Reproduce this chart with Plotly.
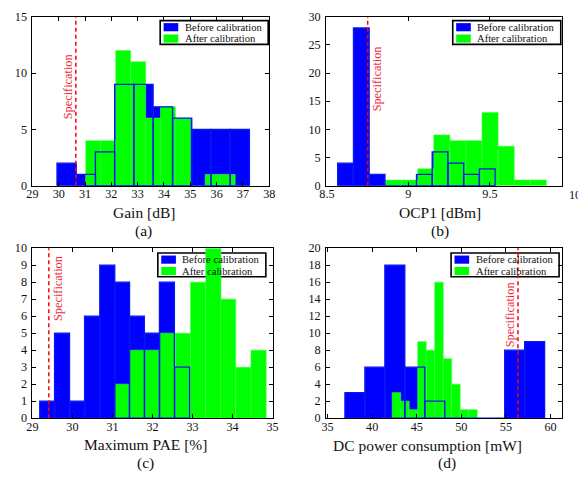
import plotly.graph_objects as go

W, H = 578, 487
FONT = "Liberation Serif"

# ---------------- data (bin centres, counts, bin widths) ----------------
gain_before_x = [30.30, 31.03, 31.76, 32.49, 33.22, 33.96, 34.69, 35.42, 36.15, 36.88]
gain_before_n = [2, 1, 3, 9, 9, 7, 6, 5, 5, 5]
gain_before_w = 0.732
gain_after_x = [31.31, 31.88, 32.45, 33.02, 33.58, 34.15, 34.72, 35.28, 35.85, 36.42]
gain_after_n = [4, 4, 12, 11, 6, 7, 6, 0, 1, 1]
gain_after_w = 0.567
gain_spec = 30.65

ocp_before_x = [8.614, 8.711, 8.808, 8.904, 9.001, 9.098, 9.194, 9.291, 9.387, 9.484]
ocp_before_n = [4, 28, 2, 0, 0, 2, 6, 4, 2, 3]
ocp_before_w = 0.0966
ocp_after_x = [8.909, 9.008, 9.107, 9.205, 9.304, 9.402, 9.501, 9.600, 9.698, 9.797]
ocp_after_n = [1, 1, 3, 9, 8, 8, 13, 7, 1, 1]
ocp_after_w = 0.0986
ocp_spec = 8.75

pae_before_x = [29.37, 29.74, 30.12, 30.49, 30.87, 31.24, 31.61, 31.99, 32.36, 32.74]
pae_before_n = [1, 5, 1, 6, 9, 8, 6, 5, 8, 3]
pae_before_w = 0.374
pae_after_x = [31.24, 31.62, 32.00, 32.38, 32.76, 33.14, 33.52, 33.89, 34.27, 34.65]
pae_after_n = [2, 4, 4, 5, 5, 8, 10, 7, 3, 4]
pae_after_w = 0.379
pae_spec = 29.41

dc_before_x = [38.06, 40.30, 42.54, 44.78, 47.02, 49.26, 51.50, 53.74, 55.98, 58.22]
dc_before_n = [3, 6, 18, 6, 2, 0, 0, 0, 8, 9]
dc_before_w = 2.24
dc_after_x = [42.72, 43.67, 44.62, 45.58, 46.53, 47.49, 48.44, 49.39, 50.35, 51.30]
dc_after_n = [3, 2, 1, 9, 8, 16, 7, 4, 1, 1]
dc_after_w = 0.954
dc_spec = 56.35

legend_labels = ["Before calibration", "After calibration"]

# ---------------- layout geometry (pixels) ----------------
panels = [
    dict(box=(26, 268.3, 10, 184), rng=[29, 38], ticks=list(range(29, 39)),
         yr=[0, 15], ydt=5, data=(gain_before_x, gain_before_n, gain_before_w,
                                  gain_after_x, gain_after_n, gain_after_w),
         spec=gain_spec, spec_txt=(62, 82), title="Gain [dB]", tpos=(140, 211.5),
         tag="(a)", tagpos=(140, 230.5), leg=(156.7, 14)),
    dict(box=(326.5, 567.7, 10, 184), rng=[8.4952, 9.942], ticks=[8.5, 9, 9.5],
         yr=[0, 30], ydt=5, data=(ocp_before_x, ocp_before_n, ocp_before_w,
                                  ocp_after_x, ocp_after_n, ocp_after_w),
         spec=ocp_spec, spec_txt=(378, 74), title="OCP1 [dBm]", tpos=(443, 211.5),
         tag="(b)", tagpos=(443, 230.5), leg=(456, 14)),
    dict(box=(26, 271.7, 248.3, 423.3), rng=[29, 35], ticks=list(range(29, 36)),
         yr=[0, 10], ydt=1, data=(pae_before_x, pae_before_n, pae_before_w,
                                  pae_after_x, pae_after_n, pae_after_w),
         spec=pae_spec, spec_txt=(51.5, 290), title="Maximum PAE [%]", tpos=(142, 450),
         tag="(c)", tagpos=(142, 470), leg=(154.3, 253.3)),
    dict(box=(326.5, 567.7, 248.3, 423.3), rng=[34.836, 61.28], ticks=[35, 40, 45, 50, 55, 60],
         yr=[0, 20], ydt=2, data=(dc_before_x, dc_before_n, dc_before_w,
                                  dc_after_x, dc_after_n, dc_after_w),
         spec=dc_spec, spec_txt=(514, 317), title="DC power consumption [mW]", tpos=(430, 451.5),
         tag="(d)", tagpos=(450, 470), leg=(454.3, 253.3)),
]

def fx(x):
    return x / W

def fy(y):
    return 1 - y / H

fig = go.Figure()
layout = dict(width=W, height=H, margin=dict(l=0, r=0, t=0, b=0),
              paper_bgcolor="white", plot_bgcolor="white", barmode="overlay",
              showlegend=False, font=dict(family=FONT, color="#111"))
shapes, annotations = [], []

BLUE, GREEN, EDGE = "#0000ff", "#00ff00", "#0818ee"

for i, p in enumerate(panels):
    k = "" if i == 0 else str(i + 1)
    xa, ya = "x" + k, "y" + k
    bx, bn, bw, ax_, an, aw = p["data"]
    fig.add_trace(go.Bar(x=bx, y=bn, width=bw, xaxis=xa, yaxis=ya,
                         marker=dict(color=BLUE, line=dict(width=0)), hoverinfo="skip"))
    fig.add_trace(go.Bar(x=ax_, y=an, width=aw, xaxis=xa, yaxis=ya,
                         marker=dict(color=GREEN, line=dict(width=0.6, color="#40ff40")),
                         hoverinfo="skip"))
    fig.add_trace(go.Bar(x=bx, y=bn, width=bw, xaxis=xa, yaxis=ya,
                         marker=dict(color="rgba(0,0,0,0)", line=dict(width=1.3, color=EDGE)),
                         hoverinfo="skip"))
    x0, x1, y0, y1 = p["box"]
    axcommon = dict(showline=True, linecolor="black", linewidth=1, mirror="allticks",
                    ticks="inside", ticklen=4, tickcolor="black", tickwidth=1,
                    showgrid=False, zeroline=False,
                    tickfont=dict(family=FONT, size=12.2, color="#111"))
    layout["xaxis" + k] = dict(domain=[fx(x0), fx(x1)], range=p["rng"], anchor=ya,
                               tickvals=p["ticks"], ticklabelstandoff=-3, **axcommon)
    layout["yaxis" + k] = dict(domain=[fy(y1), fy(y0)], range=p["yr"], anchor=xa,
                               dtick=p["ydt"], tick0=0, ticklabelstandoff=2, **axcommon)
    # specification line
    shapes.append(dict(type="line", xref=xa, yref="paper", x0=p["spec"], x1=p["spec"],
                       y0=fy(y1), y1=fy(y0), line=dict(color="#ff0000", width=1.5, dash="4px,3px"),
                       layer="above"))
    sx, sy = p["spec_txt"]
    annotations.append(dict(text="Specification", x=fx(sx), y=fy(sy), xref="paper", yref="paper",
                            showarrow=False, textangle=-90, xanchor="center", yanchor="middle",
                            font=dict(family=FONT, size=12.3, color="#f0283c")))
    # axis title + tag
    tx, ty = p["tpos"]
    annotations.append(dict(text=p["title"], x=fx(tx), y=fy(ty), xref="paper", yref="paper",
                            showarrow=False, xanchor="center", yanchor="middle",
                            font=dict(family=FONT, size=15.5, color="#111")))
    gx, gy = p["tagpos"]
    annotations.append(dict(text=p["tag"], x=fx(gx), y=fy(gy), xref="paper", yref="paper",
                            showarrow=False, xanchor="center", yanchor="middle",
                            font=dict(family=FONT, size=15.5, color="#111")))
    # legend
    L, T = p["leg"]
    shapes.append(dict(type="rect", xref="paper", yref="paper", x0=fx(L), x1=fx(L + 110.5),
                       y0=fy(T + 24.5), y1=fy(T), line=dict(color="black", width=1.6),
                       fillcolor="white", layer="below"))
    for j, (col, lab) in enumerate(zip([BLUE, GREEN], legend_labels)):
        yt = T + 2.6 + j * 11.7
        shapes.append(dict(type="rect", xref="paper", yref="paper", x0=fx(L + 3.5), x1=fx(L + 18.5),
                           y0=fy(yt + 8.4), y1=fy(yt), line=dict(width=0), fillcolor=col,
                           layer="above"))
        annotations.append(dict(text=lab, x=fx(L + 23), y=fy(yt + 4.4), xref="paper", yref="paper",
                                showarrow=False, xanchor="left", yanchor="middle",
                                font=dict(family=FONT, size=10.6, color="#111")))

# tick label "10" of panel (b), cut by the page edge as in the source figure
annotations.append(dict(text="10", x=fx(572.7), y=fy(194), xref="paper", yref="paper",
                        showarrow=False, xanchor="left", yanchor="middle",
                        font=dict(family=FONT, size=12.2, color="#111")))

layout["shapes"] = shapes
layout["annotations"] = annotations
fig.update_layout(**layout)
fig.write_html("out.html")
